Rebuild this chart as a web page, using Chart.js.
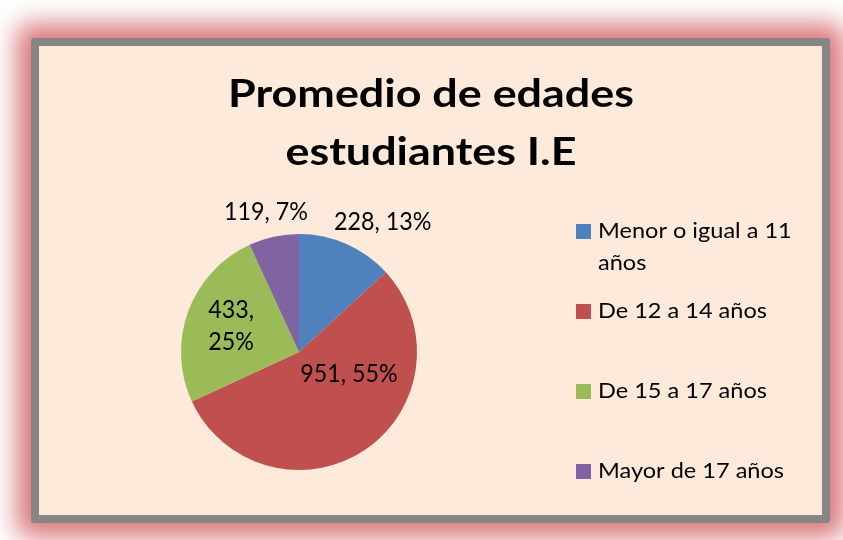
<!DOCTYPE html>
<html>
<head>
<meta charset="utf-8">
<script src="https://cdn.jsdelivr.net/npm/chart.js@4.4.1/dist/chart.umd.min.js"></script>
<style>
  html, body { margin: 0; padding: 0; background: #ffffff; }
  body { width: 843px; height: 540px; position: relative; overflow: hidden; }
  #frame {
    position: absolute; left: 31px; top: 38px; width: 783px; height: 469px;
    border: 8px solid #868686; border-radius: 3px; background: #FDEADA;
    box-shadow: 0 0 26px 14px rgba(212, 102, 106, 0.9);
  }
  #c { position: absolute; left: 0; top: 0; }
</style>
</head>
<body>
<div id="frame"></div>
<canvas id="c" width="843" height="540"></canvas>
<script>
const titleLines = ["Promedio de edades", "estudiantes I.E"];
const categories = ["Menor o igual a 11 años", "De 12 a 14 años", "De 15 a 17 años", "Mayor de 17 años"];
const values = [228, 951, 433, 119];
const colors = ["#4F81BD", "#C0504D", "#9BBB59", "#8064A2"];

// label placement (style): offset from pie centre in units of radius, and wrap flag
const labelOffsets = [[0.71, -1.10], [0.424, 0.186], [-0.576, -0.22], [-0.28, -1.186]];
const labelWrap = [false, false, true, false];

const FONT = "Lato, 'Open Sans', sans-serif";

const total = values.reduce((a, b) => a + b, 0);

function stretchText(ctx, text, x, y, sx) {
  ctx.save();
  ctx.translate(x, y);
  ctx.scale(sx, 1);
  ctx.fillText(text, 0, 0);
  ctx.restore();
}

const decorPlugin = {
  id: 'decor',
  afterDraw(chart) {
    const ctx = chart.ctx;
    ctx.save();
    ctx.fillStyle = '#000000';
    // title
    ctx.font = "bold 39px " + FONT;
    ctx.textAlign = 'center';
    ctx.textBaseline = 'alphabetic';
    stretchText(ctx, titleLines[0], 431, 107, 1.15);
    stretchText(ctx, titleLines[1], 431, 165, 1.15);

    // data labels
    const meta = chart.getDatasetMeta(0);
    ctx.font = "24.5px " + FONT;
    meta.data.forEach((arc, i) => {
      const p = arc.getProps(['x', 'y', 'outerRadius'], true);
      const cx = p.x + labelOffsets[i][0] * p.outerRadius;
      const cy = p.y + labelOffsets[i][1] * p.outerRadius;
      const pct = Math.round(values[i] / total * 100);
      const lines = labelWrap[i] ? [values[i] + ",", pct + "%"] : [values[i] + ", " + pct + "%"];
      const lh = 32;
      ctx.textAlign = 'center';
      ctx.textBaseline = 'middle';
      lines.forEach((ln, k) => {
        stretchText(ctx, ln, cx, cy + (k - (lines.length - 1) / 2) * lh, 0.95);
      });
    });

    // legend
    ctx.font = "22px " + FONT;
    ctx.textAlign = 'left';
    ctx.textBaseline = 'alphabetic';
    const sx = 1.07;
    const lx = 576, tx = 598, maxW = 212;
    categories.forEach((cat, i) => {
      const base = 238 + i * 80;
      ctx.fillStyle = colors[i];
      ctx.fillRect(lx, base - 14, 15, 15);
      ctx.fillStyle = '#000000';
      const words = cat.split(' ');
      const lines = [];
      let cur = '';
      words.forEach(w => {
        const t = cur ? cur + ' ' + w : w;
        if (ctx.measureText(t).width * sx > maxW && cur) { lines.push(cur); cur = w; }
        else cur = t;
      });
      lines.push(cur);
      lines.forEach((ln, k) => stretchText(ctx, ln, tx, base + k * 32, sx));
    });
    ctx.restore();
  }
};

new Chart(document.getElementById('c'), {
  type: 'pie',
  data: {
    labels: categories,
    datasets: [{
      data: values,
      backgroundColor: colors,
      borderWidth: 0
    }]
  },
  options: {
    responsive: false,
    animation: false,
    layout: { padding: { left: 181, right: 426, top: 234, bottom: 70 } },
    plugins: {
      legend: { display: false },
      tooltip: { enabled: false },
      title: { display: false }
    }
  },
  plugins: [decorPlugin]
});
</script>
</body>
</html>
